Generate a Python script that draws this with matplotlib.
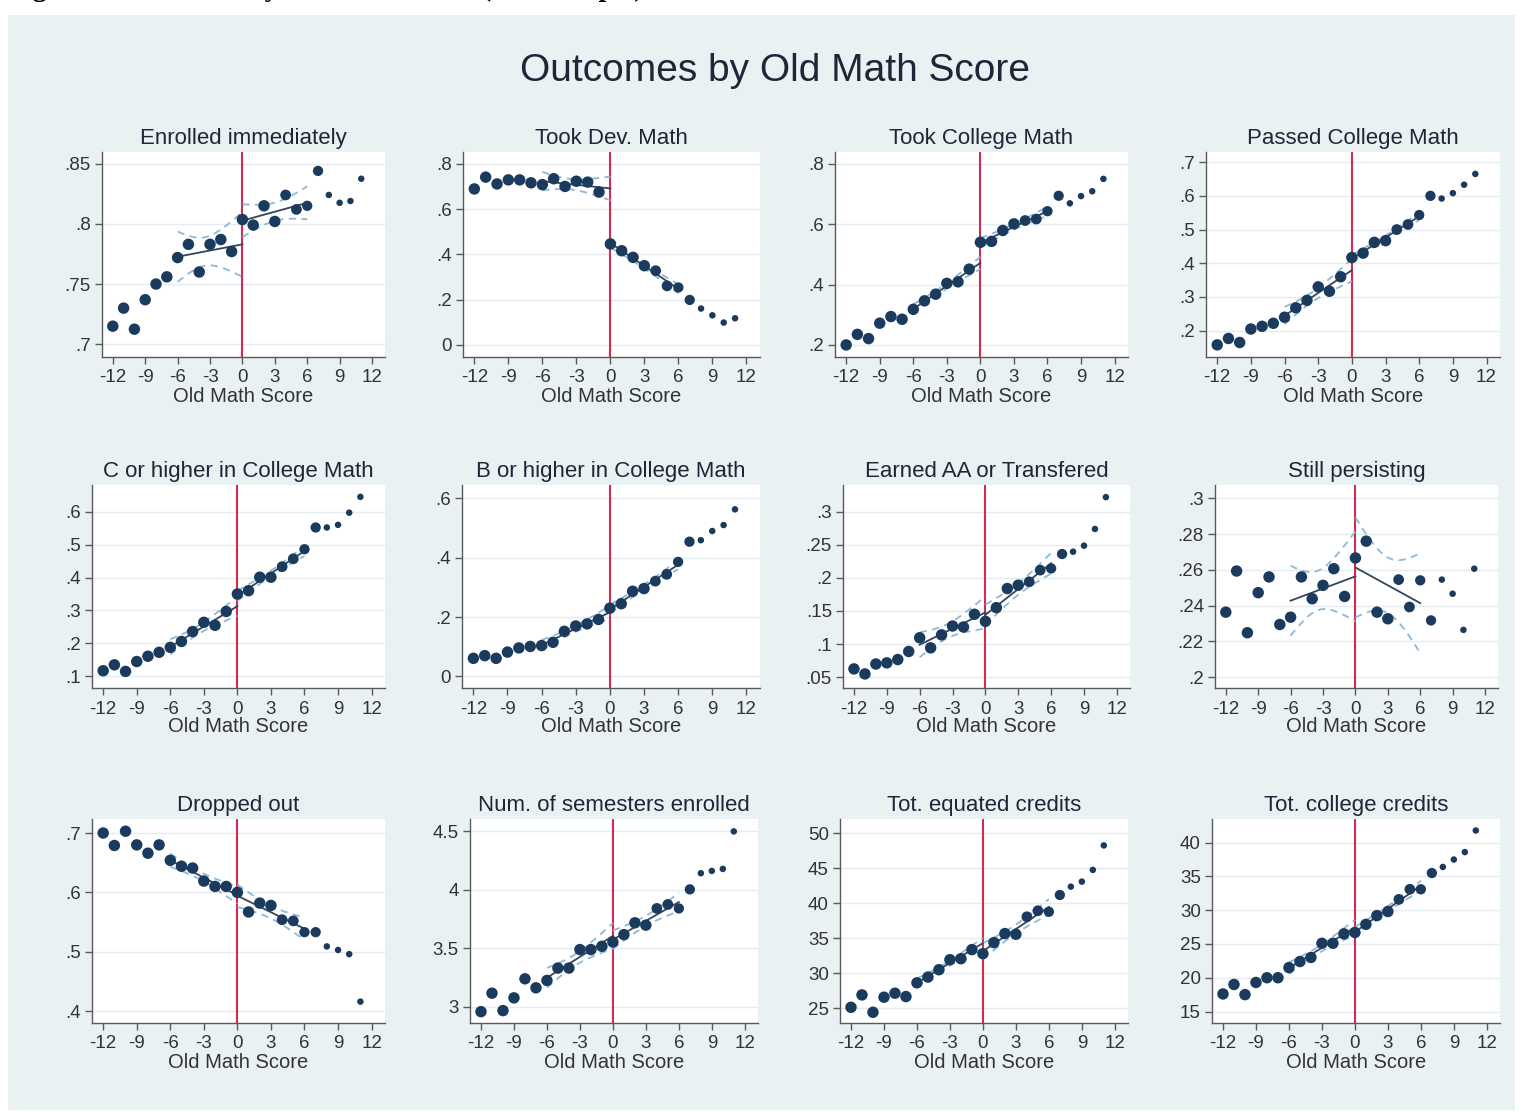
import matplotlib
matplotlib.use('Agg')
import matplotlib.pyplot as plt
import numpy as np
from matplotlib.patches import Rectangle

plt.rcParams['font.family'] = ['Liberation Sans', 'DejaVu Sans']
plt.rcParams['axes.unicode_minus'] = False

W, H = 1528, 1117

# running variable: old math score bins
score = list(range(-12, 12))

enrolled = [.715, .730, .7125, .737, .750, .756, .772, .783, .760, .783, .787, .777,
            .8036, .799, .815, .802, .824, .812, .815, .844, .824, .8175, .819, .8375]
dev_math = [.689, .741, .711, .729, .729, .716, .708, .734, .700, .723, .719, .675,
            .446, .416, .387, .350, .328, .261, .254, .199, .161, .131, .099, .118]
took_college = [.200, .235, .221, .272, .294, .285, .318, .346, .368, .404, .409, .451,
                .540, .543, .579, .601, .612, .617, .643, .694, .669, .693, .709, .750]
passed_college = [.158, .177, .165, .205, .213, .222, .240, .268, .290, .330, .317, .360,
                  .417, .430, .462, .467, .500, .515, .543, .600, .592, .608, .633, .665]
c_or_higher = [.117, .135, .115, .145, .161, .173, .188, .206, .236, .264, .255, .297,
               .350, .360, .401, .401, .433, .457, .486, .552, .552, .560, .597, .645]
b_or_higher = [.061, .070, .061, .082, .096, .101, .104, .115, .152, .170, .177, .192,
               .230, .245, .287, .296, .321, .344, .386, .454, .459, .490, .510, .563]
aa_transfer = [.0626, .055, .070, .0717, .0767, .0889, .1096, .0944, .114, .1273, .1258, .145,
               .1343, .155, .1838, .1889, .194, .2116, .2141, .2359, .2394, .2485, .2737, .3217]
persisting = [.2364, .2594, .2249, .2473, .2561, .2295, .2336, .2561, .2439, .2514, .2607, .2452,
              .2667, .2761, .2364, .2327, .2546, .2393, .2542, .2318, .2546, .2467, .2265, .2607]
dropped = [.700, .679, .703, .680, .666, .680, .654, .644, .641, .619, .610, .610,
           .600, .567, .582, .578, .554, .552, .533, .533, .509, .503, .496, .416]
semesters = [2.958, 3.116, 2.967, 3.076, 3.239, 3.162, 3.225, 3.331, 3.331, 3.489, 3.489, 3.517,
             3.554, 3.617, 3.718, 3.698, 3.841, 3.875, 3.841, 4.004, 4.142, 4.162, 4.179, 4.500]
equated_credits = [25.14, 26.91, 24.43, 26.58, 27.15, 26.67, 28.63, 29.45, 30.50, 31.93, 32.07, 33.37,
                   32.79, 34.37, 35.66, 35.56, 38.05, 38.91, 38.77, 41.16, 42.35, 43.07, 44.74, 48.23]
college_credits = [17.6, 19.0, 17.5, 19.3, 20.0, 20.0, 21.5, 22.4, 23.0, 25.1, 25.1, 26.5,
                   26.7, 27.9, 29.2, 29.8, 31.6, 33.1, 33.1, 35.5, 36.4, 37.5, 38.6, 41.8]

titles = ['Enrolled immediately', 'Took Dev. Math', 'Took College Math', 'Passed College Math',
          'C or higher in College Math', 'B or higher in College Math', 'Earned AA or Transfered',
          'Still persisting', 'Dropped out', 'Num. of semesters enrolled', 'Tot. equated credits',
          'Tot. college credits']
series = [enrolled, dev_math, took_college, passed_college, c_or_higher, b_or_higher,
          aa_transfer, persisting, dropped, semesters, equated_credits, college_credits]

yticks = [[.7, .75, .8, .85], [0, .2, .4, .6, .8], [.2, .4, .6, .8], [.2, .3, .4, .5, .6, .7],
          [.1, .2, .3, .4, .5, .6], [0, .2, .4, .6], [.05, .1, .15, .2, .25, .3],
          [.2, .22, .24, .26, .28, .3], [.4, .5, .6, .7], [3, 3.5, 4, 4.5],
          [25, 30, 35, 40, 45, 50], [15, 20, 25, 30, 35, 40]]
ytick_labels = [['.7', '.75', '.8', '.85'], ['0', '.2', '.4', '.6', '.8'], ['.2', '.4', '.6', '.8'],
                ['.2', '.3', '.4', '.5', '.6', '.7'], ['.1', '.2', '.3', '.4', '.5', '.6'],
                ['0', '.2', '.4', '.6'], ['.05', '.1', '.15', '.2', '.25', '.3'],
                ['.2', '.22', '.24', '.26', '.28', '.3'], ['.4', '.5', '.6', '.7'],
                ['3', '3.5', '4', '4.5'], ['25', '30', '35', '40', '45', '50'],
                ['15', '20', '25', '30', '35', '40']]
xticks = [-12, -9, -6, -3, 0, 3, 6, 9, 12]

# layout: plot boxes in pixels (left, right, top, bottom) and y ranges
boxes = [(102, 385, 152, 357), (463, 760, 152, 357), (835, 1128, 152, 357), (1206, 1500, 152, 357),
         (92, 385, 485, 688), (462, 760, 485, 688), (843, 1130, 485, 688), (1215, 1498, 485, 688),
         (92, 385, 819, 1023), (470, 758, 819, 1023), (840, 1128, 819, 1023), (1212, 1500, 819, 1023)]
ylims = [(.6894, .8597), (-.053, .852), (.16, .839), (.122, .73), (.0646, .681), (-.039, .645),
         (.0338, .34), (.194, .3075), (.38, .7236), (2.861, 4.606), (22.9, 52), (13.3, 43.5)]
msize = [68] * 16 + [60, 60, 55, 55, 22, 22, 22, 22]

BG = '#eaf1f3'
NAVY = '#1b3b5e'
FITC = '#34465a'
CIC = '#8db8d6'
RED = '#d22b4f'
GRID = '#e4ecef'
AXC = '#5a5a5a'
TXT = '#333333'
TITLE = '#1c2738'


def local_fit(x, y, sel, grid):
    xs, ys = x[sel], y[sel]
    n = len(xs)
    b, a = np.polyfit(xs, ys, 1)
    resid = ys - (a + b * xs)
    s = np.sqrt((resid ** 2).sum() / (n - 2))
    se = s * np.sqrt(1 / n + (grid - xs.mean()) ** 2 / ((xs - xs.mean()) ** 2).sum())
    t = {4: 2.776, 5: 2.571}[n - 2]
    fit = a + b * grid
    return fit, fit - t * se, fit + t * se


fig = plt.figure(figsize=(W / 100, H / 100), dpi=100)
fig.patches.append(Rectangle((8 / W, 1 - 1110 / H), (1515 - 8) / W, (1110 - 15) / H,
                             transform=fig.transFigure, facecolor=BG, edgecolor='none', zorder=-5))
# caption of the source figure, cut off at the top edge as in the scan
fig.text(8 / W, 1 + 4 / H, 'Figure 2: Outcomes by Old Math Score (Full Sample)', ha='left',
         va='baseline', fontsize=20, fontweight='bold', family='Liberation Serif', color='black')
fig.text(775 / W, 1 - 71 / H, 'Outcomes by Old Math Score', ha='center', va='center',
         fontsize=28, color=TITLE)

x = np.array(score, dtype=float)
gl = np.linspace(-6, 0, 60)
gr = np.linspace(0, 6, 60)

for i in range(12):
    l, r, t, b = boxes[i]
    ax = fig.add_axes([l / W, 1 - b / H, (r - l) / W, (b - t) / H])
    ax.set_facecolor('white')
    y = np.array(series[i], dtype=float)

    ax.axvline(0, color=RED, lw=1.5, zorder=1.5)
    for sel, grid in [((x >= -6) & (x <= -1), gl), ((x >= 0) & (x <= 6), gr)]:
        fit, lo, hi = local_fit(x, y, sel, grid)
        ax.plot(grid, lo, color=CIC, lw=1.3, ls=(0, (4, 3)), zorder=2)
        ax.plot(grid, hi, color=CIC, lw=1.3, ls=(0, (4, 3)), zorder=2)
        ax.plot(grid, fit, color=FITC, lw=1.3, zorder=2.2)
    ax.scatter(x, y, s=msize, color=NAVY, edgecolor='none', zorder=3)

    ax.set_xlim(-13.0, 13.2)
    ax.set_ylim(*ylims[i])
    ax.set_xticks(xticks)
    ax.set_yticks(yticks[i])
    ax.set_yticklabels(ytick_labels[i])
    ax.yaxis.grid(True, color=GRID, lw=1.0)
    ax.set_axisbelow(True)
    for side in ['top', 'right']:
        ax.spines[side].set_visible(False)
    for side in ['left', 'bottom']:
        ax.spines[side].set_color(AXC)
        ax.spines[side].set_linewidth(1.0)
    ax.tick_params(axis='both', direction='out', length=5, width=1, colors=AXC,
                   labelcolor=TXT, labelsize=13.5, pad=3)
    ax.tick_params(axis='x', pad=4)
    ax.set_xlabel('Old Math Score', fontsize=14.5, color=TXT, labelpad=0)
    ax.set_title(titles[i], fontsize=16, color=TITLE, pad=6)

fig.savefig('out.png', dpi=100, facecolor='white')
